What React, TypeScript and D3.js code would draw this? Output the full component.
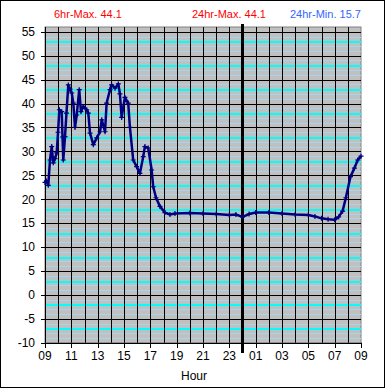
import React from "react";
import * as d3 from "d3";

// hours elapsed since 09:00
const hours = [
  0, 0.11, 0.25, 0.38, 0.51, 0.63, 0.76, 0.89, 0.99, 1.09, 1.27, 1.33, 1.39, 1.52, 1.63, 1.77,
  1.9, 2.03, 2.15, 2.28, 2.41, 2.6, 2.73, 2.91, 3.17, 3.29, 3.42, 3.67, 3.93, 4.18, 4.31, 4.56,
  4.68, 4.94, 5.06, 5.32, 5.57, 5.69, 5.82, 6.07, 6.32, 6.45, 6.7, 6.96, 7.21, 7.46, 7.59, 7.84,
  8.1, 8.22, 8.43, 8.73, 9.11, 9.49, 9.87, 11, 12, 13, 14, 14.5, 15, 15.5, 16, 17, 18, 19, 20,
  20.5, 21, 21.5, 22, 22.3, 22.6, 22.85, 23.2, 23.5, 23.75, 24,
];
const temps = [
  23.5, 23.8, 22.9, 28.2, 31.0, 27.6, 28.5, 29.7, 34.0, 38.7, 38.3, 33.0, 28.2, 33.1, 38.0, 43.9,
  43.0, 42.2, 40.1, 35.0, 37.6, 42.9, 38.3, 39.4, 38.7, 38.0, 33.8, 31.4, 32.8, 34.1, 36.6, 34.1,
  40.1, 42.9, 43.9, 43.2, 44.1, 42.0, 37.1, 41.3, 40.1, 35.0, 28.2, 26.8, 25.4, 28.9, 31.0, 30.7,
  26.1, 22.6, 20.3, 18.5, 17.2, 16.8, 17.0, 17.1, 17.0, 16.9, 16.7, 16.8, 16.3, 16.9, 17.2, 17.2,
  17.0, 16.8, 16.7, 16.4, 16.0, 15.8, 15.7, 16.3, 17.5, 20.3, 24.7, 26.5, 28.2, 29.0,
];

const yTicks = d3.range(-10, 56, 5);
const xTickHours = d3.range(0, 25, 2);
const minorValues = d3.range(-10, 56, 1).filter((v) => v % 5 !== 0);

const headerTexts = [
  { label: "6hr-Max. 44.1", color: "#ff0000", x: 54 },
  { label: "24hr-Max. 44.1", color: "#ff0000", x: 192 },
  { label: "24hr-Min. 15.7", color: "#3366ff", x: 290 },
];

export default function App() {
  const W = 385;
  const H = 388;
  const x = d3.scaleLinear().domain([0, 24]).range([45, 361]);
  const y = d3.scaleLinear().domain([-10, 56]).range([342.7, 27]);
  const line = d3
    .line<number>()
    .x((_, i) => x(hours[i]))
    .y((d) => y(d));
  const font = "'Liberation Sans', Arial, sans-serif";
  const [x0, x1] = x.range();
  const [yb, yt] = y.range();
  const isCyan = (v: number) => ((v % 5) + 5) % 5 === 3;

  return (
    <svg
      width={W}
      height={H}
      style={{ position: "absolute", left: 0, top: 0, background: "#fff" }}
      fontFamily={font}
    >
      <rect x={0.5} y={0.5} width={W - 1} height={H - 1} fill="#fff" stroke="#000" />
      {headerTexts.map((t) => (
        <text key={t.label} x={t.x} y={18} fontSize={11} fill={t.color}>
          {t.label}
        </text>
      ))}
      <rect x={x0} y={yt} width={x1 - x0} height={yb - yt} fill="#c0c0c0" stroke="#808080" />
      {minorValues.map((v) => (
        <rect
          key={"m" + v}
          x={x0}
          width={x1 - x0}
          y={Math.round(y(v))}
          height={isCyan(v) ? 2 : 1}
          fill={isCyan(v) ? "#00ffff" : "#a6d6ec"}
        />
      ))}
      {yTicks.map((v) => (
        <line
          key={"g" + v}
          x1={x0}
          x2={x1}
          y1={Math.round(y(v)) + 0.5}
          y2={Math.round(y(v)) + 0.5}
          stroke="#000"
        />
      ))}
      {d3.range(1, 24).map((h) => (
        <line
          key={"v" + h}
          x1={Math.round(x(h)) + 0.5}
          x2={Math.round(x(h)) + 0.5}
          y1={yt}
          y2={yb}
          stroke="#000"
        />
      ))}
      <line x1={x(15)} x2={x(15)} y1={24} y2={353} stroke="#000" strokeWidth={3} />
      <line x1={x0 + 0.5} x2={x0 + 0.5} y1={yt} y2={yb} stroke="#000" />
      <line x1={x0} x2={x1} y1={Math.round(yb) + 0.5} y2={Math.round(yb) + 0.5} stroke="#000" />
      {yTicks.map((v) => (
        <g key={"yt" + v}>
          <line x1={41} x2={x0} y1={Math.round(y(v)) + 0.5} y2={Math.round(y(v)) + 0.5} stroke="#000" />
          <text x={35} y={y(v)} dy="0.36em" textAnchor="end" fontSize={12} fill="#000">
            {v}
          </text>
        </g>
      ))}
      {xTickHours.map((h) => (
        <g key={"xt" + h}>
          <line
            x1={Math.round(x(h)) + 0.5}
            x2={Math.round(x(h)) + 0.5}
            y1={yb}
            y2={348}
            stroke="#000"
          />
          <text x={x(h)} y={360} textAnchor="middle" fontSize={12} fill="#000">
            {String((9 + h) % 24).padStart(2, "0")}
          </text>
        </g>
      ))}
      <text x={194} y={380} textAnchor="middle" fontSize={12} fill="#000">
        Hour
      </text>
      <path
        d={line(temps) || ""}
        fill="none"
        stroke="#000080"
        strokeWidth={2.5}
        strokeLinejoin="round"
      />
      {temps.map((t, i) => (
        <path
          key={"p" + i}
          d={`M${x(hours[i]) - 2.5},${y(t)}h5M${x(hours[i])},${y(t) - 2.5}v5`}
          stroke="#000080"
          strokeWidth={1.2}
        />
      ))}
    </svg>
  );
}
